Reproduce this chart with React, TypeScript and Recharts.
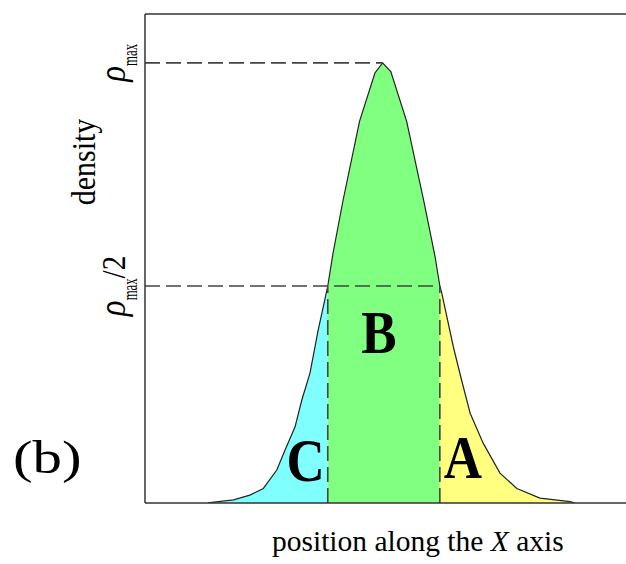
import {
  ComposedChart,
  Area,
  XAxis,
  YAxis,
  ReferenceLine,
  ReferenceDot,
} from 'recharts';

// positions along X (arbitrary units, axis runs 0..10) and density (rho / rho_max)
const positions = [
  1.31, 1.35, 1.84, 2.18, 2.46, 2.74, 2.91, 3.12, 3.26, 3.43, 3.6, 3.8,
  3.91, 4.12, 4.46, 4.78, 4.94, 5.11, 5.44, 5.79, 6.03, 6.13,
  6.17, 6.41, 6.58, 6.76, 7.03, 7.38, 7.73, 8.21, 8.84, 8.94,
];
const density = [
  0, 0.001, 0.007, 0.018, 0.033, 0.075, 0.12, 0.173, 0.234, 0.295, 0.393, 0.493,
  0.568, 0.689, 0.867, 0.977, 1.0, 0.98, 0.867, 0.689, 0.56, 0.493,
  0.477, 0.355, 0.28, 0.204, 0.136, 0.068, 0.033, 0.011, 0.003, 0,
];

const rhoMax = 1.0;
const rhoHalf = 0.493;
const peakX = 4.94;
const leftEdge = 3.8;
const rightEdge = 6.13;
const yTop = 1.111;
const xRange = [0, 10];

const regionLabels = [
  { name: 'B', x: 4.865, y: 0.341 },
  { name: 'C', x: 3.337, y: 0.049 },
  { name: 'A', x: 6.61, y: 0.057 },
];

const serif = '"Liberation Serif", "Times New Roman", Times, serif';
const lineColor = '#333';
const dashColor = '#444';

const rows = positions.map((x, i) => {
  const d = density[i];
  return {
    x,
    c: x <= leftEdge ? d : null,
    b: x >= leftEdge && x <= rightEdge ? d : null,
    a: x >= rightEdge ? d : null,
  };
});

function RhoTick(props: any) {
  const { y, payload } = props;
  const half = payload.value < 0.9;
  return (
    <text
      transform={`translate(125, ${y}) rotate(-90) scale(1, 1.15)`}
      textAnchor="middle"
      style={{ fontFamily: serif }}
      fill="#000"
    >
      <tspan fontStyle="italic" fontSize={33}>ρ</tspan>
      <tspan fontSize={19} dy={10} textLength={22} lengthAdjust="spacingAndGlyphs">max</tspan>
      {half && <tspan fontSize={29} dy={-10}>/2</tspan>}
    </text>
  );
}

function Letter(props: any) {
  const { cx, cy, name } = props;
  return (
    <text
      transform={`translate(${cx}, ${cy}) scale(1, 1.14)`}
      textAnchor="middle"
      style={{ fontFamily: serif, fontWeight: 'bold' }}
      fontSize={53}
      fill="#000"
    >
      {name}
    </text>
  );
}

export default function App() {
  return (
    <div style={{ position: 'absolute', left: 0, top: 0, width: 626, height: 564, background: '#fff' }}>
      <ComposedChart
        width={626}
        height={564}
        data={rows}
        margin={{ top: 14, right: 0, left: 85, bottom: 0 }}
      >
        <XAxis
          type="number"
          dataKey="x"
          domain={xRange}
          allowDataOverflow
          tick={false}
          tickLine={false}
          height={61}
          axisLine={{ stroke: lineColor, strokeWidth: 1.5 }}
          label={{
            content: () => (
              <text x={272} y={551} style={{ fontFamily: serif }} fontSize={29.5} fill="#000">
                position along the <tspan fontStyle="italic">X</tspan> axis
              </text>
            ),
          }}
        />
        <YAxis
          type="number"
          domain={[0, yTop]}
          allowDataOverflow
          ticks={[rhoHalf, rhoMax]}
          tick={<RhoTick />}
          tickLine={false}
          width={60}
          axisLine={{ stroke: lineColor, strokeWidth: 1.5 }}
          label={{
            content: () => (
              <text
                transform="translate(95, 162) rotate(-90) scale(1, 1.15)"
                textAnchor="middle"
                style={{ fontFamily: serif }}
                fontSize={30}
                fill="#000"
              >
                density
              </text>
            ),
          }}
        />
        <ReferenceLine y={yTop} stroke={lineColor} strokeWidth={1.5} ifOverflow="extendDomain" />
        <Area
          type="linear"
          dataKey="c"
          stroke="#222"
          strokeWidth={1.2}
          fill="#80FFFF"
          fillOpacity={1}
          dot={false}
          activeDot={false}
          isAnimationActive={false}
        />
        <Area
          type="linear"
          dataKey="b"
          stroke="#222"
          strokeWidth={1.2}
          fill="#80FF80"
          fillOpacity={1}
          dot={false}
          activeDot={false}
          isAnimationActive={false}
        />
        <Area
          type="linear"
          dataKey="a"
          stroke="#222"
          strokeWidth={1.2}
          fill="#FFFF80"
          fillOpacity={1}
          dot={false}
          activeDot={false}
          isAnimationActive={false}
        />
        <ReferenceLine
          segment={[{ x: 0, y: rhoMax }, { x: peakX, y: rhoMax }]}
          stroke={dashColor}
          strokeWidth={1.6}
          strokeDasharray="15 6"
        />
        <ReferenceLine
          segment={[{ x: 0, y: rhoHalf }, { x: rightEdge, y: rhoHalf }]}
          stroke={dashColor}
          strokeWidth={1.6}
          strokeDasharray="15 6"
        />
        <ReferenceLine
          segment={[{ x: leftEdge, y: 0 }, { x: leftEdge, y: rhoHalf }]}
          stroke={dashColor}
          strokeWidth={1.6}
          strokeDasharray="15 6"
        />
        <ReferenceLine
          segment={[{ x: rightEdge, y: 0 }, { x: rightEdge, y: rhoHalf }]}
          stroke={dashColor}
          strokeWidth={1.6}
          strokeDasharray="15 6"
        />
        {regionLabels.map((l) => (
          <ReferenceDot
            key={l.name}
            x={l.x}
            y={l.y}
            r={1}
            shape={(p: any) => <Letter {...p} name={l.name} />}
          />
        ))}
      </ComposedChart>
      <svg
        width={110}
        height={90}
        style={{ position: 'absolute', left: 0, top: 410 }}
      >
        <text
          transform="translate(13, 63) scale(1.28, 1)"
          style={{ fontFamily: serif }}
          fontSize={46}
          fill="#000"
        >
          (b)
        </text>
      </svg>
    </div>
  );
}
